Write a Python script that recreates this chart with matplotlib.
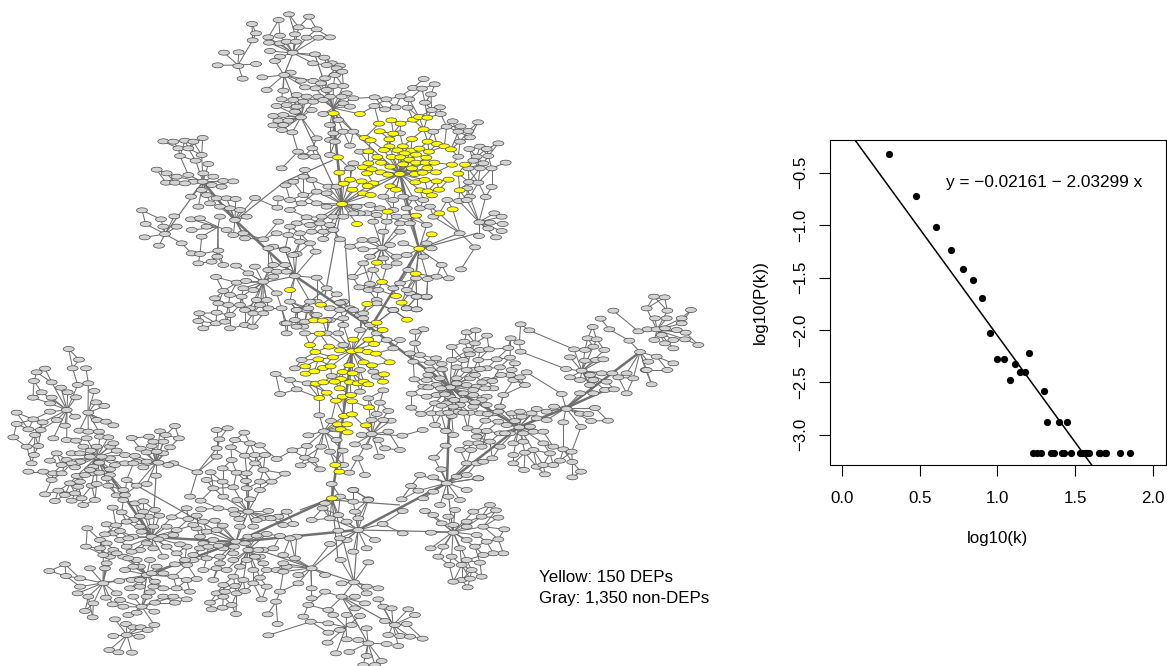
import numpy as np
import matplotlib
matplotlib.use("Agg")
import matplotlib.pyplot as plt
from matplotlib.collections import EllipseCollection, LineCollection

plt.rcParams['font.family'] = ['Liberation Sans', 'DejaVu Sans']

# scatter values
log_k = [0.301, 0.477, 0.602, 0.699, 0.778, 0.845, 0.903, 0.954, 1.0, 1.041, 1.079, 1.114, 1.146, 1.176, 1.204,
         1.301, 1.322, 1.398, 1.447,
         1.23, 1.255, 1.279, 1.342, 1.362, 1.415, 1.431, 1.477, 1.531, 1.544, 1.556, 1.568, 1.58, 1.591,
         1.653, 1.663, 1.69, 1.70, 1.792, 1.851]
log_p = [-0.32, -0.72, -1.02, -1.24, -1.42, -1.52, -1.70, -2.03, -2.28, -2.28, -2.48, -2.33, -2.40, -2.40, -2.22,
         -2.58, -2.88, -2.88, -2.88,
         -3.176, -3.176, -3.176, -3.176, -3.176, -3.176, -3.176, -3.176, -3.176, -3.176, -3.176, -3.176, -3.176, -3.176,
         -3.176, -3.176, -3.176, -3.176, -3.176, -3.176]
fit_a = -0.02161
fit_b = -2.03299
x_ticks = [0.0, 0.5, 1.0, 1.5, 2.0]
y_ticks = [-3.0, -2.5, -2.0, -1.5, -1.0, -0.5]

# network nodes, read in crops of the picture (3x scale, offset given below)
top_offset = (130, 0)
mid_offset = (260, 290)
low_offset = (0, 340)
right_hub_offset = (405, 345)
bottom_offset = (100, 505)
left_hub_offset = (60, 420)

yellow_top = [(611,340),(690,342),(747,371),(784,361),(812,371),(849,359),(867,351),(892,353),(881,388),(749,394),(790,401),
    (704,414),(722,421),(778,418),(846,417),(893,425),(921,432),(943,439),(963,448),(778,439),(819,439),(715,454),(762,450),
    (803,451),(843,452),(868,446),(897,455),(824,460),(858,464),(742,471),(785,471),(811,472),(838,479),(889,473),(715,490),
    (753,488),(819,493),(858,488),(887,488),(913,488),(699,502),(725,508),(781,500),(846,505),(892,504),(966,494),(1005,494),
    (711,520),(752,517),(774,524),(809,522),(855,522),(878,518),(918,517),(985,521),(628,518),(660,539),(641,551),(695,544),(730,550),
    (713,558),(856,547),(884,540),(920,544),(956,539),(781,559),(798,569),(667,569),(699,580),(722,585),(870,571),(893,574),
    (927,569),(989,571),(906,586),(624,472),(636,612),(773,635),(858,647),(928,640),(968,628),(681,672),(905,703),(868,746),
    (741,788),(756,846),(857,821)]
yellow_mid = [(90,0),(183,44),(322,42),(408,18),(425,38),(162,91),(188,92),(350,98),(368,120),(441,89),(179,131),(280,149),
    (325,149),(342,162),(150,165),(207,170),(166,186),(240,181),(276,184),(298,181),(323,186),(348,191),(175,208),(219,202),
    (311,217),(389,217),(268,226),(336,226),(136,229),(189,234),(212,229),(248,246),(278,250),(372,253),(137,251),(163,244),
    (243,267),(224,275),(270,277),(293,280),(311,275),(325,283),(369,275),(168,281),(190,277),(239,295),(200,308),(178,324),
    (228,332),(248,320),(273,315),(276,334),(327,352),(252,378),(276,373),(234,403),(261,403),(318,406),(242,418),(263,427),
    (226,525),(238,545),(216,625)]

grey_top = [(477,43),(537,50),(446,60),(366,72),(506,82),(560,88),(378,100),(450,107),(495,103),(530,113),(565,113),(600,112),
    (415,112),(368,121),(417,128),(450,130),(470,125),(498,125),(420,153),(488,158),(555,163),(583,173),(435,183),(450,170),(549,190),(606,190),
    (590,195),(630,197),(620,205),(282,158),(326,157),(263,196),(325,198),(378,192),(338,236),(397,232),(410,270),(482,218),(463,225),
    (513,242),(550,243),(585,235),(615,225),(637,215),(573,250),(610,258),(640,258),(525,262),(557,265),(590,270),(650,280),
    (460,272),(500,285),(530,290),(565,290),(600,290),(635,290),(670,295),(455,298),(490,300),(520,305),(550,305),(580,300),
    (640,310),(660,320),(440,318),(470,315),(500,320),(545,330),(580,342),(430,348),(460,345),(495,335),(513,352),(445,362),
    (475,362),(430,376),(460,375),(456,390),(487,397),(600,375),(610,400),(625,360),(560,415),(600,420),(615,425),
    (881,237),(914,253),(849,264),(876,266),(903,283),(734,292),(769,298),(812,289),(838,298),(885,308),(930,322),(733,318),
    (765,328),(797,322),(833,323),(905,330),(932,342),(968,364),(1044,367),(992,379),(950,380),(1015,393),(985,395),(910,395),
    (1105,430),(1050,440),(1020,412),(990,425),(1070,447),(1018,447),(985,470),(1040,470),(1075,468),(1127,488),(1060,490),
    (1030,482),(1085,505),(1050,505),(1015,505),(1017,546),(1045,548),(1085,561),(1012,565),(1067,591),(1020,590),(987,603),
    (952,600),(1010,600),(810,400),(660,437),(690,455),(670,490),(660,505),(640,395),(670,395),
    (760,590),(790,600),(820,590),(850,595),(880,600),(720,615),(750,625),(790,630),(830,625),(870,625),(900,620),(710,640),
    (740,645),(800,650),(830,650),(690,640),(730,665),(770,665),(810,670),(840,670),(760,695),(810,695),(890,675),(910,650),
    (504,455),(547,445),(525,510),(520,470),(555,470),(455,505),(600,465),(545,540),(490,545),(520,530),(467,556),(595,560),
    (620,560),(560,575),(590,580),(520,585),(445,595),(480,600),(515,610),(560,610),(590,620),(442,623),(480,630),(530,652),
    (575,650),(610,650),(640,650),(670,640),(680,620),(500,670),(540,675),(570,670),(600,675),(445,665),(480,680),(510,700),
    (545,695),(580,695),(610,690),(440,700),(475,705),(510,725),(540,730),(580,717),(630,718),(660,740),(557,755),(500,762),
    (465,748),(430,740),(697,720),(730,720),(757,743),(780,735),(820,730),(700,748),(720,770),(760,775),(800,770),(830,765),(700,790),
    (730,810),(800,790),(770,800),(890,730),(905,745),(880,770),(1035,742),(989,700),(1047,708),(1098,712),(1048,667),(1093,640),
    (1115,650),(1118,672),(1080,668),(1115,693),(1075,685),(935,795),(993,808),(957,835),(893,837),(920,830),(858,835),(835,810),
    (810,850),(720,852),(668,831),(688,862),(716,870),(790,865),(745,870),(840,880),(890,892),(860,890),(830,870),(740,900),
    (860,928),(830,925),(790,930),
    (100,424),(130,425),(165,422),(190,425),(218,414),(145,445),(175,445),(215,465),(150,468),(197,482),(235,492),(80,509),
    (110,520),(140,530),(175,525),(220,520),(108,548),(135,548),(190,545),(218,545),(250,530),(280,543),(310,544),(165,550),(215,570),(245,555),
    (275,560),(183,590),(230,585),(260,595),(290,595),(317,597),(375,594),(205,620),(240,610),(270,620),(300,625),(330,630),
    (350,650),(36,631),(93,658),(133,649),(47,672),(100,680),(140,680),(183,658),(210,655),(185,690),(230,680),(270,650),
    (290,690),(315,660),(340,700),(44,712),(87,737),(105,702),(155,730),(215,710),(265,752),(310,705),(345,715),(400,718),
    (185,760),(210,762),(262,770),(205,790),(245,785),(280,795),(318,797),(375,800),(258,831),(415,745),
    (430,795),(465,795),(415,810),(440,815),(470,815),(490,765),(465,750),(495,828),(560,833),(590,865),(620,883),(640,905),
    (660,925),(690,945),(720,975),(700,940),(560,905),(600,925),(630,930),(355,820),(320,848),(348,843),(400,845),(430,830),
    (370,870),(340,865),(280,873),(255,895),(300,885),(335,890),(380,900),(410,900),(440,880),(480,905),(455,925),(265,910),
    (295,915),(330,915),(360,925),(390,915),(415,925),(208,940),(260,938),(300,945),(345,930),(370,940),(400,940),(205,963),
    (258,970),(285,965),(345,975),(368,980),(220,985),(300,985),(465,970),(500,930),(530,930),(495,960),(520,980),(560,945),
    (600,960),(640,975)]

grey_mid = [(150,35),(110,60),(145,55),(80,100),(135,95),(110,110),(80,130),(135,130),(240,38),(280,60),(310,85),(200,90),(250,85),
    (350,40),(400,60),(470,20),(500,20),(440,55),(470,58),(300,120),(235,130),(200,130),(490,118),(465,125),(465,160),(420,150),
    (400,175),(380,150),(450,190),(460,215),(480,195),(510,240),(350,130),
    (250,165),(125,210),(105,235),(47,252),(90,270),(110,298),(60,312),(143,280),(215,258),(300,240),(340,245),(370,301),
    (350,260),(300,305),(325,325),(360,338),(385,363),(350,372),(392,392),(178,376),(213,393),(335,390),(370,390),
    (145,436),(192,424),(141,468),(183,470),(97,481),(135,503),(160,510),(122,526),(180,538),(210,485),(230,450),(285,463),
    (248,482),(305,435),(335,432),(385,425),(427,437),(355,450),(375,475),(420,480),(357,500),(320,470),(293,505),(250,525),
    (315,555),(268,548),(215,582),(280,600),(325,628),(280,635),(240,620),(195,640),
    (575,171),(620,127),(647,121),(681,137),(613,155),(645,160),(625,180),(660,180),(687,178),(528,205),(575,210),(610,210),
    (655,210),(510,218),(545,222),(590,232),(640,240),(680,235),(710,208),(745,174),(782,103),(752,145),(808,121),(778,157),
    (782,185),(765,220),(720,232),(750,255),(800,247),(760,270),(795,285),(463,268),(500,270),(540,265),(590,265),(630,265),
    (680,270),(490,290),(530,285),(570,292),(620,285),(650,290),(700,295),(455,311),(500,320),(530,315),(570,320),(610,310),(640,315),
    (680,320),(730,315),(525,340),(560,340),(600,345),(640,350),(680,345),(720,350),(454,353),(483,372),(515,370),(543,370),
    (575,378),(595,365),(630,368),(660,370),(700,370),(525,405),(488,420),(558,423),(580,435),(557,467),(522,503),(544,538),
    (755,370),(785,380),(830,357),(860,365),(882,350),(918,355),(920,357),(1005,354),(960,371),(985,372),(910,397),(993,393),(1044,392),
    (963,411),(830,385),(860,390),
    (623,415),(676,392),(715,395),(740,405),(650,440),(625,460),(655,460),(690,455),(720,430),(750,430),(778,412),(790,430),(820,425),
    (850,425),(600,480),(633,480),(665,470),(720,470),(760,460),(790,455),(820,480),(850,460),(880,470),(910,478),(935,485),
    (760,495),(795,488),(870,490),(900,512),(937,516),(963,545),(937,562),(855,553),(830,530),(850,525),(880,525),(620,520),
    (650,520),(670,515),(697,505),(760,520),(792,540),(655,565),
    (998,111),(1022,86),(1060,62),(1048,118),(983,145),(1010,148),(1033,180),(1000,170),(942,178),(975,180),(930,202),(975,212),
    (1008,210),(1030,208),(918,237),(965,242),(990,255),(1025,250),(1057,250),(930,262),(960,270),(1000,270),(1040,275),(990,285),(1035,300),
    (1062,298),(905,312),(960,310),(1000,310),(1100,310),(1175,283),(1120,265),(1100,250),(1157,240),(1075,262),
    (1182,20),(1214,22),(1160,55),(1222,62),(1293,60),(1185,85),(1265,85),(1220,85),(1135,124),(1163,118),(1190,118),(1215,115),
    (1265,100),(1277,128),(1108,152),(1183,150),(1215,160),(1240,150),(1275,148),(1315,165),(1140,186),(1240,175),(1190,200),(1165,215),
    (1240,220),(1222,240),(1160,240),(1205,135),(1250,120)]

grey_low = [(206,27),(237,59),(135,86),(110,97),(218,85),(258,85),(102,123),(155,127),(233,135),(265,130),(183,143),(125,157),
    (203,157),(283,153),(99,173),(155,173),(228,172),(150,190),(288,187),(313,198),(200,210),(265,218),(150,215),(50,218),(100,238),
    (170,240),(225,230),(290,240),(50,252),(128,247),(195,257),(318,245),(340,256),(85,268),(122,270),(238,272),(265,275),
    (297,275),(40,292),(105,285),(160,295),(200,300),(260,295),(300,290),(395,294),(80,320),(115,318),(170,340),(215,340),
    (250,320),(290,320),(290,350),(330,320),(375,345),(422,326),(480,274),(525,258),(447,290),(537,295),(490,305),(455,318),(510,322),
    (440,337),(490,340),(410,365),(375,370),(345,375),(102,345),(150,362),(95,370),(200,360),(240,365),(280,380),(330,355),
    (400,370),(440,365),(475,368),(520,370),(85,395),(130,395),(160,400),(185,400),(230,408),(280,400),(330,405),(380,420),
    (468,407),(155,420),(210,430),(275,437),(325,437),(410,437),(440,432),(175,452),(235,440),(135,463),(165,483),(195,465),
    (215,482),(250,495),(285,480),(225,460),(350,466),(375,465),(405,490),(430,484),(370,450),
    (465,510),(430,515),(515,532),(400,540),(445,530),(320,553),(348,556),(262,565),(380,545),(420,560),(460,560),(500,560),
    (340,580),(300,600),(360,600),(400,590),(455,590),(440,610),(490,590),(530,570),(258,620),(300,625),(340,630),(380,620),(420,630),
    (460,625),(500,620),(330,650),(370,650),(410,660),(450,660),(490,650),(530,640),(320,670),(375,690),(420,680),(470,680),
    (570,470),(602,482),(560,505),(603,508),(565,537),(610,545),(645,542),(590,565),(620,575),(650,570),(600,590),(640,600),
    (560,620),(600,625),(580,660),(620,655),(610,690),
    (650,270),(683,265),(733,278),(658,298),(705,300),(650,325),(693,322),(750,310),(780,316),(650,350),(735,347),(765,345),
    (795,345),(830,357),(695,360),(765,370),(592,397),(632,397),(668,385),(710,398),(740,400),(790,390),(855,401),(620,420),
    (668,425),(738,423),(780,425),(815,425),(640,445),(700,442),(670,470),(740,445),(780,450),(712,480),(750,478),(700,510),
    (745,515),(860,515),(705,523),(785,535),(835,530),(720,560),(760,560),(800,582),(850,555),(880,552),(745,590),(708,605),(670,625),
    (700,640),(745,630),(790,630),(820,625),(660,650),(700,660),(740,660),(780,650),(850,645),(885,655),(650,685),(680,690),
    (720,680),(760,690),(800,690),(830,690),(860,680),(700,710),(730,720),(670,735),(760,730),(800,740),(840,755),(650,760),
    (710,760),(670,770),(785,778),(828,785),(630,788),(668,803),(695,795),(635,808),(708,822),(803,823),(833,852),(805,886),
    (195,673),(148,693),(198,708),(270,685),(240,715),(310,730),(240,740),(265,770),(233,760),(318,773),(280,790),(255,813),
    (278,832),(350,760),(395,720),(440,705),(455,700),(490,700),(520,710),(560,720),(590,717),(390,745),(420,740),(460,740),
    (490,745),(530,745),(570,755),(360,780),(400,770),(440,770),(490,770),(520,770),(560,778),(525,788),(338,793),(370,800),
    (425,800),(465,788),(345,838),(385,825),(410,818),(463,815),(378,852),(400,862),(422,862),(463,855),(443,870),(340,888),
    (380,885),(418,890),(328,930),(355,937),(396,938),
    (935,685),(895,705),(935,745),(975,705),(895,730),(1025,730),(1062,727),(1100,740),(1135,745),(975,755),(935,775),(1065,770),(1100,760),
    (1135,778),(925,795),(985,810),(1025,770),(1065,805),(1095,790),(1150,800),(1175,805),(1225,808),(1245,825),(910,830),
    (932,845),(1000,825),(1040,825),(1080,828),(985,850),(1020,870),(1055,855),(1100,865),(1155,843),(1185,855),(1220,852),
    (985,878),(1040,898),(1075,900),(1165,885),(1200,888),(1230,890),(1268,896),(983,908),(1160,912),(1195,918),(1105,910),
    (1008,940),(1048,936),(1100,948),(1090,975),(1145,963),(1125,975),
    (968,505),(1015,525),(1065,515),(1105,480),(1060,450),(1075,535),(990,535),(935,540),(1148,552),(1015,572),(1075,570),
    (1125,600),(1040,600),(990,612),(1020,595),(1060,635),(1100,625),(1022,660),(1105,667),(890,590),(870,595),(1208,580),
    (1208,513),(1040,545),
    (1260,405),(1233,438),(1205,478),(1255,452),(1300,412),(1340,430),(1370,410),(1400,405),(1435,415),(1300,455),(1270,475),(1400,450),
    (1345,470),(1380,480),(1275,513),(1320,495),(1365,510),(1300,525),(1345,530),(1470,495),(1420,515),(1488,511),(1495,533),
    (1445,530),(1400,545),(1360,555),(1325,550),(1513,568),(1293,578),(1360,578),(1400,560),(1450,560),(1430,585),(1495,598),(1460,605),
    (1400,600),(1330,620),(1292,625),(1380,625),(1425,620),(1510,640),(1480,640),(1450,645),(1315,650),(1355,650),(1400,660),
    (1440,668),(1348,675),(1385,675),(1415,690),(1445,710),(1385,720),(1360,725),(1403,742),(1410,716)]

# closer reads of the three densest hubs
grey_right_hub = [(142,5),(178,18),(215,10),(252,12),(312,10),(347,18),(37,30),(93,38),(195,28),(275,45),(315,38),(72,52),(118,47),
    (140,47),(168,48),(210,48),(225,72),(282,68),(320,75),(80,75),(112,73),(147,70),(185,75),(70,90),(155,90),(210,90),(288,90),
    (345,97),(25,102),(55,107),(90,108),(232,112),(262,108),(312,100),(135,125),(70,127),(108,130),(155,115),(187,118),(215,120),
    (358,122),(275,132),(165,142),(205,135),(240,130),(20,147),(90,150),(120,148),(175,165),(205,158),(240,145),(295,152),(60,157),
    (100,168),(148,165),(230,165),(255,178),(87,175),(110,182),(135,170),(210,172),(20,188),(48,207),(80,200),(108,205),(145,185),
    (175,203),(205,202),(280,200),(130,203),(145,213),(248,207),(315,203),(345,200),(380,205),(240,225),(280,228),(330,228),(90,240),
    (55,255),(125,258),(190,250),(215,258),(245,258),(300,240),(340,248),(375,245),(300,265)]
grey_bottom = [(38,8),(105,3),(260,10),(305,14),(355,10),(400,3),(445,18),(505,18),(555,18),(65,22),(120,33),(140,20),(165,15),(178,32),
    (213,38),(262,45),(290,32),(345,45),(418,42),(470,45),(512,40),(20,60),(48,60),(85,45),(108,52),(158,68),(280,60),(312,60),(368,62),
    (415,68),(545,60),(60,78),(15,88),(40,90),(125,80),(190,85),(220,90),(290,75),(330,75),(445,90),(470,92),(500,88),(540,93),(85,100),
    (155,90),(175,103),(20,115),(68,120),(240,118),(310,115),(355,122),(378,122),(402,125),(435,115),(30,135),(95,140),(115,125),(140,125),
    (200,118),(295,128),(325,125),(445,135),(475,135),(525,130),(50,145),(10,150),(195,145),(150,165),(85,160),(60,162),(315,158),(360,175),
    (400,155),(435,158),(465,155),(540,152),(280,150),(255,165),(118,172),(20,170),(225,178),(262,180),(290,172),(400,175),(440,170),(490,175),
    (550,175),(15,190),(100,185),(170,190),(420,190),(470,192),(375,198),(360,190),(525,196),(550,200),(225,205),(195,205),(150,210),(400,215),
    (480,218),(265,218),(120,225),(95,222),(165,230),(58,228),(8,232),(430,228),(340,225),(460,235),(120,243),(95,245),(150,245),(190,240),
    (235,245),(495,242),(360,240),(405,243),(85,258),(50,265),(150,262),(195,262),(270,260),(345,262),(375,260),(435,258),(500,258)]
grey_left_hub = [(112,10),(135,8),(158,15),(15,18),(58,32),(82,44),(95,35),(118,35),(300,33),(265,48),(317,45),(215,55),(145,52),(20,62),
    (48,62),(122,62),(280,65),(75,75),(110,75),(160,70),(240,85),(35,100),(60,100),(92,92),(170,92),(290,95),(318,93),(195,105),(225,108),
    (125,110),(90,110),(258,115),(35,130),(55,127),(155,115),(118,128),(175,128),(195,130),(222,130),(295,128),(325,135),(5,135),(45,142),
    (90,150),(118,158),(150,148),(250,142),(290,165),(10,160),(45,172),(75,165),(140,175),(200,183),(30,190),(60,185),(110,192),(255,192),
    (95,197),(150,200),(5,205),(50,200),(190,205),(232,202),(10,225),(65,235),(50,215),(170,227),(208,228),(35,240),(105,240),(190,240),
    (250,243),(70,255),(160,262),(220,258),(285,265)]

# hubs in picture pixels, the leaves hang off the nearest one
hubs = [(293,53),(284,75),(333,108),(301,117),(400,174),(342,204),(382,248),(419,249),(235,220),(203,182),(295,276),(263,282),
        (460,233),(479,222),(218,227),(165,234),(238,65),(352,351),(450,387),(519,427),(566,408),(582,371),(640,352),(657,330),
        (324,431),(372,434),(97,457),(67,410),(88,413),(152,537),(236,542),(248,550),(147,575),(103,583),(142,607),(127,635),
        (311,568),(354,582),(342,597),(393,625),(368,643),(346,627),(358,530),(447,483),(453,532),(248,512),(156,463)]

# bundles of edges between hubs
trunks = [((235,220),(295,276)),((295,276),(360,320)),((360,320),(450,387)),((450,387),(519,427)),((519,427),(566,408)),
          ((566,408),(640,352)),((566,408),(610,388)),((450,387),(447,483)),((519,427),(447,483)),((447,483),(358,530)),
          ((358,530),(236,542)),((332,498),(236,542)),((332,498),(352,351)),((333,113),(342,204)),((97,457),(152,537)),
          ((152,537),(236,542)),((236,542),(147,575)),((400,174),(419,249)),((419,249),(369,330)),((235,220),(203,182))]
# single long edges
links = [((333,113),(400,174)),((342,204),(400,174)),((301,117),(342,204)),((284,75),(293,53)),((284,75),(301,117)),
         ((315,55),(333,108)),((342,204),(325,295)),((345,240),(350,310)),((147,575),(103,583)),((147,575),(142,607)),
         ((236,542),(248,512)),((248,512),(248,480)),((236,542),(311,568)),((311,568),(354,582)),((354,582),(342,597)),
         ((358,530),(354,582)),((332,498),(354,582)),((447,483),(453,532)),((358,530),(453,532)),((156,476),(154,510)),
         ((127,480),(236,542)),((332,498),(338,560)),((358,530),(312,568)),((236,220),(284,182)),((284,182),(333,160)),
         ((400,505),(332,500)),((419,249),(478,233)),((419,249),(460,233)),((342,597),(368,643)),((203,182),(165,234)),
         ((342,597),(393,625)),((332,498),(300,510)),((295,276),(262,283))]


def to_px(points, offset):
    return [(offset[0] + p[0] / 3, offset[1] + p[1] / 3) for p in points]


grey = to_px(grey_top, top_offset) + to_px(grey_mid, mid_offset) + to_px(grey_low, low_offset)
yellow = to_px(yellow_top, top_offset) + to_px(yellow_mid, mid_offset)

# the closer reads repeat many nodes, keep only the ones not placed yet
placed = grey + yellow
extras = to_px(grey_right_hub, right_hub_offset) + to_px(grey_bottom, bottom_offset) + to_px(grey_left_hub, left_hub_offset)
for p in extras:
    if min(np.hypot(p[0] - q[0], p[1] - q[1]) for q in placed) > 4.5:
        placed.append(p)
        grey.append(p)

grey = np.array(grey)
yellow = np.array(yellow)
nodes = np.vstack([grey, yellow])
hub_xy = np.array(hubs, dtype=float)

# every node links to its nearest hub when close, otherwise to the nearest nodes on the hub side
segs = []
d_hub = np.sqrt(((nodes[:, None, :] - hub_xy[None, :, :]) ** 2).sum(axis=2))
near = d_hub.argmin(axis=1)
for i, p in enumerate(nodes):
    h = hub_xy[near[i]]
    d = d_hub[i, near[i]]
    if d < 32:
        segs.append([p, h])
        continue
    inner = (near == near[i]) & (d_hub[:, near[i]] < d - 4)
    idx = np.where(inner)[0]
    if len(idx) == 0:
        segs.append([p, h])
        continue
    dist = np.hypot(*(nodes[idx] - p).T)
    order = idx[np.argsort(dist)][:2]
    segs.append([p, nodes[order[0]]])
    if len(order) > 1 and np.hypot(*(nodes[order[1]] - p)) < 22:
        segs.append([p, nodes[order[1]]])

fig = plt.figure(figsize=(11.67, 6.66), dpi=100)

ax = fig.add_axes([0, 0, 1, 1])
ax.set_xlim(0, 1167)
ax.set_ylim(666, 0)
ax.axis('off')

ax.add_collection(LineCollection(segs, colors='#707070', linewidths=0.75, zorder=1))
ax.add_collection(LineCollection(links, colors='#707070', linewidths=0.85, zorder=1))
ax.add_collection(LineCollection(trunks, colors='#707070', linewidths=1.8, zorder=1))


def draw_nodes(xy, color, z):
    n = len(xy)
    ec = EllipseCollection(np.full(n, 11.0), np.full(n, 5.0), np.zeros(n), units='xy', offsets=xy,
                           offset_transform=ax.transData, facecolors=color, edgecolors='#4a4a4a',
                           linewidths=0.5, zorder=z)
    ax.add_collection(ec)


draw_nodes(grey, '#d3d3d3', 2)
draw_nodes(yellow, '#ffff00', 3)

ax.text(539, 577, "Yellow: 150 DEPs", fontsize=12.2, va='center', ha='left')
ax.text(539, 599, "Gray: 1,350 non-DEPs", fontsize=12.2, va='center', ha='left')

# degree distribution panel
ax2 = fig.add_axes([830 / 1167, 1 - 465 / 666, 335.7 / 1167, 325 / 666])
ax2.plot(log_k, log_p, 'o', color='black', ms=5.2, mew=0, clip_on=False)
xlim = (-0.079, 2.084)
ylim = (-3.289, -0.188)
xs = np.array(xlim)
ax2.plot(xs, fit_a + fit_b * xs, color='black', lw=1.1)
ax2.set_xlim(xlim)
ax2.set_ylim(ylim)
ax2.set_xticks(x_ticks)
ax2.set_yticks(y_ticks)
ax2.set_xticklabels(['%.1f' % v for v in x_ticks])
ax2.set_yticklabels([('%.1f' % v).replace('-', '\u2212') for v in y_ticks], rotation=90, va='center')
ax2.tick_params(axis='both', labelsize=12.2, length=8, width=0.8, color='black')
ax2.tick_params(axis='x', pad=10.5)
ax2.tick_params(axis='y', pad=8)
for s in ax2.spines.values():
    s.set_linewidth(0.8)
ax2.text(0.67, -0.59, "y = \u22120.02161 \u2212 2.03299 x", fontsize=12.4, va='center', ha='left')
ax2.patch.set_alpha(0)

fig.text(997 / 1167, 1 - 538 / 666, "log10(k)", fontsize=12.2, ha='center', va='center')
fig.text(760 / 1167, 1 - 302 / 666, "log10(P(k))", fontsize=12.2, ha='center', va='center', rotation=90)

fig.savefig('out.png', dpi=100)
